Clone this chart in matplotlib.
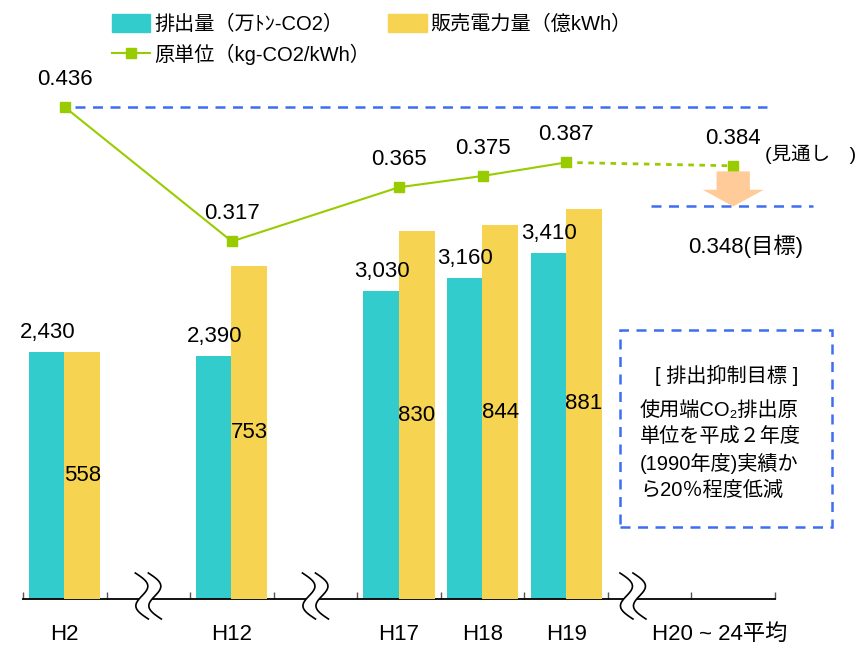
import numpy as np
import matplotlib.pyplot as plt
from matplotlib.patches import Patch, Rectangle, Polygon
from matplotlib.lines import Line2D
from matplotlib.transforms import IdentityTransform, ScaledTranslation

plt.rcParams['font.family'] = ['Liberation Sans', 'Noto Sans CJK JP', 'DejaVu Sans']

# data
categories = ['H2', 'H12', 'H17', 'H18', 'H19', 'H20 ~ 24平均']
emissions = [2430, 2390, 3030, 3160, 3410]        # 万トン-CO2
sales = [558, 753, 830, 844, 881]                 # 億kWh
intensity = [0.436, 0.317, 0.365, 0.375, 0.387]   # kg-CO2/kWh
outlook = 0.384
target = 0.348

slots = [0, 2, 4, 5, 6, 8]      # slot index of each category on the axis
breaks = [1, 3, 6.8]            # where the axis is broken

teal = '#33CCCC'
yellow = '#F6D350'
green = '#99CC00'
blue = '#3D6EF0'

fig = plt.figure(figsize=(8.68, 6.45), dpi=100)
ax = fig.add_axes([23 / 868, 46 / 645, 752 / 868, 569 / 645])
ax2 = ax.twinx()
ax3 = ax.twinx()

ax.set_xlim(-0.5, 8.5)
ax.set_ylim(0, 5600)
ax2.set_ylim(0, 1285)
ax3.set_ylim(0, 0.5044)

bar_x = np.array(slots[:5])
w = 0.43
ax.bar(bar_x - 0.21, emissions, w, color=teal)
ax2.bar(bar_x + 0.21, sales, w, color=yellow)

# teal labels go on the top axes so the yellow bars don't hide them
for x, v in zip(bar_x, emissions):
    ax3.annotate(f'{v:,}', (x - 0.21, v), xycoords=ax.transData, xytext=(0, 14),
                 textcoords='offset points', ha='center', va='center', fontsize=16)
for x, v in zip(bar_x, sales):
    ax2.text(x + 0.21, v / 2, str(v), ha='center', va='center', fontsize=16)

# intensity line
ax3.plot(bar_x, intensity, color=green, lw=1.5, marker='s', ms=7.5, mec=green, mfc=green)
ax3.plot([slots[4], slots[5]], [intensity[-1], outlook], color=green, lw=2,
         linestyle=(0, (2, 2)))
ax3.plot([slots[5]], [outlook], marker='s', ms=7.5, color=green)
for x, v in zip(bar_x, intensity):
    ax3.annotate(f'{v:.3f}', (x, v), xytext=(0, 20), textcoords='offset points',
                 ha='center', va='center', fontsize=16)
ax3.annotate(f'{outlook:.3f}', (slots[5], outlook), xytext=(0, 20), textcoords='offset points',
             ha='center', va='center', fontsize=16)
ax3.annotate('(見通し　)', (slots[5], outlook), xytext=(23, 8), textcoords='offset points',
             ha='left', va='center', fontsize=14)

# reference lines
ax3.plot([0.12, 8.4], [intensity[0]] * 2, color=blue, lw=1.8, linestyle=(0, (4, 3)))
ax3.plot([7.02, 8.96], [target] * 2, color=blue, lw=1.8, linestyle=(0, (4, 3)), clip_on=False)
ax3.annotate('', xy=(slots[5], target), xytext=(slots[5], outlook),
             arrowprops=dict(arrowstyle='simple,head_width=2.2,head_length=0.6,tail_width=1.2',
                             fc='#FFCC99', ec='none', shrinkA=4, shrinkB=0, mutation_scale=20))
ax3.annotate(f'{target:.3f}(目標)', (slots[5], target), xytext=(9, -29), textcoords='offset points',
             ha='center', va='center', fontsize=16)

# axes styling
for a in (ax, ax2, ax3):
    for s in ('top', 'left', 'right'):
        a.spines[s].set_visible(False)
    a.set_yticks([])
ax2.spines['bottom'].set_visible(False)
ax3.spines['bottom'].set_visible(False)
ax.spines['bottom'].set_linewidth(1.3)
ax.set_xticks(np.arange(-0.5, 9, 1))
ax.set_xticklabels([])
ax.tick_params(axis='x', which='major', direction='in', length=5, width=1, color='#555555')
ax.set_xticks(slots, minor=True)
ax.set_xticklabels(categories, minor=True, fontsize=16)
ax.tick_params(axis='x', which='minor', length=0, pad=18)
last = ax.get_xticklabels(minor=True)[-1]
last.set_transform(last.get_transform() + ScaledTranslation(-0.14, 0, fig.dpi_scale_trans))

# break marks on the axis
fig.canvas.draw()
s = np.linspace(0, 1, 60)
for b in breaks:
    px, py = ax.transData.transform((b, 0))
    yy = py + 26 - 46 * s
    xl = px - 6.5 + 9 * np.sin(2 * np.pi * s) + 13 * (s - 0.5)
    xr = xl + 13
    poly = Polygon(np.column_stack([np.r_[xl, xr[::-1]], np.r_[yy, yy[::-1]]]),
                   closed=True, fc='white', ec='none', transform=IdentityTransform(),
                   clip_on=False, zorder=5)
    ax3.add_patch(poly)
    for xs in (xl, xr):
        ax3.add_line(Line2D(xs, yy, color='black', lw=1.2, transform=IdentityTransform(),
                            clip_on=False, zorder=6))

# target box
fig.add_artist(Rectangle((620 / 868, 118 / 645), 212 / 868, 197 / 645, transform=fig.transFigure,
                         fill=False, ec=blue, lw=1.8, linestyle=(0, (4, 3))))
fig.text(727 / 868, 1 - 375 / 645, '[ 排出抑制目標 ]', ha='center', va='center', fontsize=14.5)
box_lines = ['使用端CO₂排出原', '単位を平成２年度', '(1990年度)実績か', 'ら20％程度低減']
for i, t in enumerate(box_lines):
    fig.text(640 / 868, 1 - (410 + 26.7 * i) / 645, t, ha='left', va='center', fontsize=14.5)

# legend
handles = [Patch(color=teal),
           Line2D([], [], color=green, lw=1.5, marker='s', ms=7.5),
           Patch(color=yellow)]
labels = ['排出量（万ﾄﾝ-CO2）', '原単位（kg-CO2/kWh）', '販売電力量（億kWh）']
fig.legend(handles, labels, ncol=2, loc='upper left', bbox_to_anchor=(102 / 868, 1 - 4 / 645),
           frameon=False, fontsize=14.5, handlelength=1.9, handleheight=1.0,
           handletextpad=0.2, columnspacing=0.9, labelspacing=0.5, borderpad=0)

fig.savefig('out.png', dpi=100)
